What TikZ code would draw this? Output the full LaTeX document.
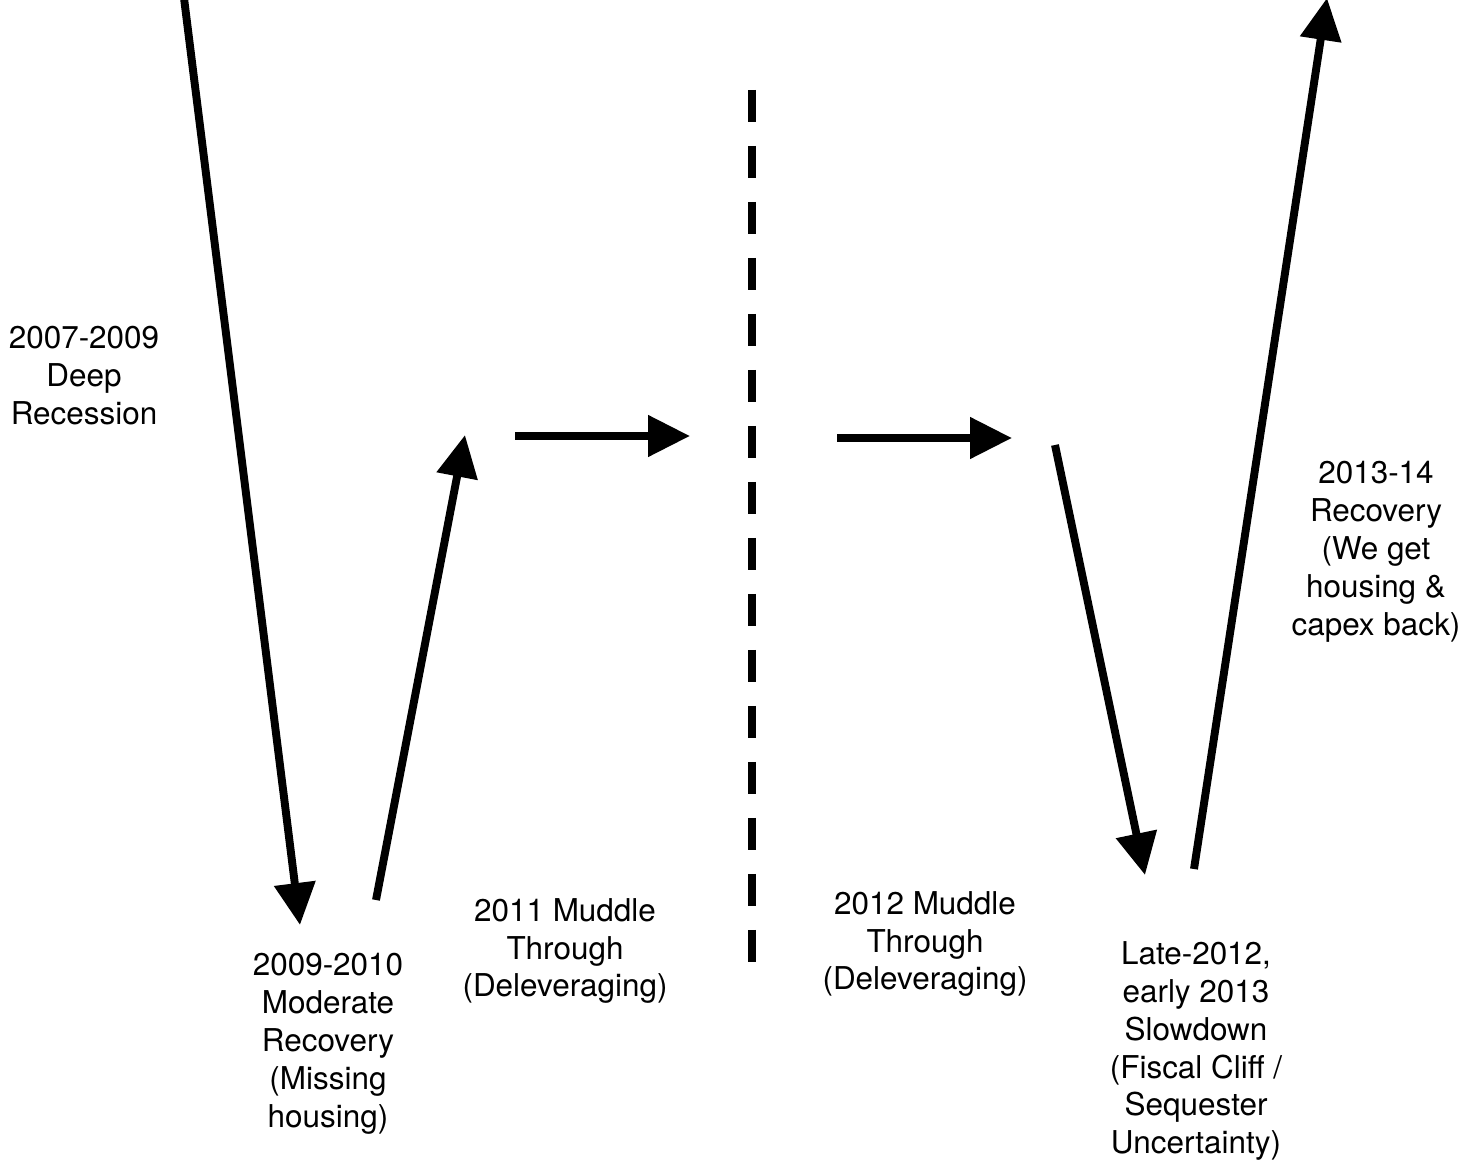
\documentclass[tikz,border=0pt]{standalone}
\usepackage{fontspec}
\setmainfont{TeX Gyre Heros}
\usetikzlibrary{arrows.meta}

\tikzset{
    phase/.style={line width=4.5pt, -{Triangle[length=0.84cm, width=0.8cm]}},
    phaselabel/.style={align=center, inner sep=0pt, font=\fontsize{17.9}{21.6}\selectfont},
    yearsplit/.style={line width=4.5pt, dash pattern=on 0.64cm off 0.48cm}
}

\begin{document}
\begin{tikzpicture}[x=0.02cm, y=-0.02cm]
    % Page frame
    \useasboundingbox (0,0) rectangle (1464,1162);

    % End points of the phases
    \coordinate (recStart) at (183,-10);
    \coordinate (recEnd) at (300,925);
    \coordinate (modStart) at (376,900);
    \coordinate (modEnd) at (465,435);
    \coordinate (mudAStart) at (515,436);
    \coordinate (mudAEnd) at (690,436);
    \coordinate (mudBStart) at (837,438);
    \coordinate (mudBEnd) at (1012,438);
    \coordinate (slowStart) at (1055,445);
    \coordinate (slowEnd) at (1145,875);
    \coordinate (recoStart) at (1194,869);
    \coordinate (recoEnd) at (1327,-2);

    % Split between 2011 and 2012
    \coordinate (splitTop) at (752,90);
    \coordinate (splitBottom) at (752,962);
    \draw[yearsplit] (splitTop) -- (splitBottom);

    % Phase arrows
    \draw[phase] (recStart) -- (recEnd);
    \draw[phase] (modStart) -- (modEnd);
    \draw[phase] (mudAStart) -- (mudAEnd);
    \draw[phase] (mudBStart) -- (mudBEnd);
    \draw[phase] (slowStart) -- (slowEnd);
    \draw[phase] (recoStart) -- (recoEnd);

    % Labels
    \node[phaselabel] (recLabel) at (84,376) {2007-2009\\Deep\\Recession};
    \node[phaselabel] (modLabel) at (328,1044) {2009-2010\\Moderate\\Recovery\\(Missing\\housing)};
    \node[phaselabel] (mudALabel) at (565,951) {2011 Muddle\\Through\\(Deleveraging)};
    \node[phaselabel] (mudBLabel) at (925,944) {2012 Muddle\\Through\\(Deleveraging)};
    \node[phaselabel] (slowLabel) at (1196,1051) {Late-2012,\\early 2013\\Slowdown\\(Fiscal Cliff /\\Sequester\\Uncertainty)};
    \node[phaselabel] (recoLabel) at (1376,552) {2013-14\\Recovery\\(We get\\housing \&\\capex back)};
\end{tikzpicture}
\end{document}
